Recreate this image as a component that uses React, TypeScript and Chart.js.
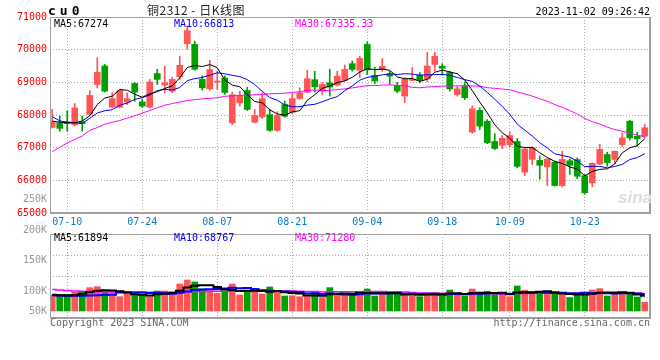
import React, { useEffect, useRef } from "react";
import { Chart, registerables } from "chart.js";
Chart.register(...registerables);

// ---------- data ----------
const dates = [
  "07-06","07-07","07-10","07-11","07-12","07-13","07-14","07-17","07-18","07-19","07-20","07-21","07-24","07-25","07-26","07-27","07-28","07-31",
  "08-01","08-02","08-03","08-04","08-07","08-08","08-09","08-10","08-11","08-14","08-15","08-16","08-17","08-18","08-21","08-22","08-23","08-24","08-25","08-28","08-29","08-30","08-31",
  "09-01","09-04","09-05","09-06","09-07","09-08","09-11","09-12","09-13","09-14","09-15","09-18","09-19","09-20","09-21","09-22","09-25","09-26","09-27","09-28",
  "10-09","10-10","10-11","10-12","10-13","10-16","10-17","10-18","10-19","10-20","10-23","10-24","10-25","10-26","10-27","10-30","10-31",
  "11-01","11-02",
];

const opens = [
  67620, 67760, 67790, 67700, 67790, 68020, 68935, 69500, 68240, 68240,
  68400, 68965, 68400, 68240, 69270, 68915, 68730, 69170, 70180, 70160,
  69090, 68800, 69010, 69130, 67760, 68370, 68750, 67780, 67940, 68010,
  67530, 68320, 68080, 68506, 68700, 69080, 68730, 68985, 68915, 69060,
  69570, 69370, 70160, 69210, 69395, 69260, 68900, 68580, 69060, 69220,
  69100, 69550, 69497, 69300, 68630, 68890, 67480, 68140, 67810, 67190,
  67070, 67090, 67190, 66250, 66640, 66610, 66410, 66550, 65840, 66600,
  66635, 66140, 65920, 66500, 66790, 66640, 67095, 67810, 67350, 67350,
];
const highs = [
  68170, 67970, 68130, 68350, 67960, 68750, 69750, 69550, 68680, 68780,
  68680, 68990, 68475, 69090, 69400, 69500, 69150, 69800, 70720, 70260,
  69200, 69670, 69340, 69200, 68700, 68730, 68850, 68170, 68680, 68170,
  68100, 68430, 68660, 68830, 69370, 69340, 68990, 69400, 69340, 69530,
  69650, 69800, 70240, 69470, 69730, 69340, 69000, 69150, 69450, 69300,
  69920, 69920, 69570, 69340, 68870, 69010, 68280, 68220, 67860, 67430,
  67370, 67480, 67280, 66990, 67020, 66750, 66660, 66590, 66890, 66660,
  66690, 66180, 66540, 67100, 66860, 66900, 67450, 67840, 67470, 67710,
];
const lows = [
  67600, 67505, 67505, 67660, 67505, 67990, 68830, 68700, 68220, 68220,
  68320, 68420, 68240, 68220, 68935, 68680, 68680, 69090, 70020, 69370,
  68760, 68760, 68780, 68630, 67700, 68270, 68140, 67760, 67900, 67500,
  67500, 67930, 68030, 68480, 68680, 68700, 68630, 68580, 68880, 69040,
  69340, 69140, 69240, 68955, 69340, 68935, 68680, 68380, 69050, 68980,
  69020, 69340, 69220, 68730, 68580, 68470, 67440, 67550, 67120, 66940,
  66970, 67020, 66380, 66150, 66480, 66030, 65840, 65820, 65800, 66180,
  66050, 65580, 65800, 66480, 66430, 66510, 67040, 67230, 67040, 67300,
];
const closes = [
  67800, 67590, 67735, 68220, 67735, 68600, 69310, 68730, 68500, 68750,
  68500, 68700, 68270, 69010, 69090, 68990, 69090, 69520, 70580, 69400,
  68830, 69390, 69040, 68690, 68620, 68600, 68170, 67985, 68500, 67530,
  67985, 67965, 68500, 68680, 69110, 68860, 68935, 68855, 69190, 69395,
  69395, 69730, 69380, 69040, 69490, 69190, 68730, 69090, 69090, 69060,
  69497, 69800, 69430, 68800, 68800, 68530, 68190, 67660, 67150, 66975,
  67290, 67370, 66430, 66960, 67000, 66460, 66650, 65840, 66640, 66460,
  66125, 65620, 66520, 66950, 66545, 66890, 67300, 67300, 67270, 67610,
];
const volumes = [
  65000, 65000, 67800, 75900, 75900, 94900, 98900, 75900, 71800, 58300,
  69100, 65000, 65000, 58300, 81300, 81300, 78600, 109800, 126000, 117900,
  89400, 81300, 71800, 75900, 109800, 65000, 85400, 75900, 69100, 97600,
  75900, 61000, 62300, 58300, 58300, 74500, 54200, 94900, 65000, 69100,
  65000, 78600, 89400, 61000, 69100, 69100, 71800, 65000, 65000, 58300,
  74500, 74500, 61000, 85300, 65000, 61000, 89400, 67800, 80400, 67800,
  67800, 58300, 101600, 84300, 67800, 77200, 71800, 73200, 67800, 54200,
  67800, 73200, 85400, 90900, 61000, 67800, 77200, 71800, 56900, 35700,
];

// moving-average values before enough history exists
const ma5Head = [67810, 67780, 67765, 67760];
const ma10Head = [67950, 67820, 67780, 67760, 67745, 67900, 68060, 68130, 68160];
const ma30Head = [
  66880, 67010, 67146, 67250, 67360, 67530, 67615, 67715, 67780, 67832,
  67910, 67975, 68060, 68138, 68220, 68300, 68350, 68400, 68445, 68470,
  68495, 68510, 68530, 68570, 68590, 68600, 68608, 68620, 68625,
];
const vma5Head = [66000, 64000, 63000, 64000];
const vma10Head = [64000, 63000, 62000, 62000, 62000, 63000, 64000, 65000, 66000];
const vma30Head = [
  87000, 85000, 83000, 81000, 80000, 79000, 78500, 78000, 77500, 77000,
  77000, 76500, 76500, 76000, 76000, 76000, 76500, 77000, 78000, 79000,
  79500, 80000, 80000, 80000, 80500, 80500, 80500, 80500, 80500,
];

const priceTicks = [65000, 66000, 67000, 68000, 69000, 70000, 71000];
const dateTicks = ["07-10", "07-24", "08-07", "08-21", "09-04", "09-18", "10-09", "10-23"];
const volTickValues = [67000, 100000, 150000, 200000, 250000];
const volTickLabels = ["50K", "100K", "150K", "200K", "250K"];

const priceLegend = [
  { text: "MA5:67274", color: "#000000", left: 54 },
  { text: "MA10:66813", color: "#0000ff", left: 174 },
  { text: "MA30:67335.33", color: "#ff00ff", left: 295 },
];
const volLegend = [
  { text: "MA5:61894", color: "#000000", left: 54 },
  { text: "MA10:68767", color: "#0000ff", left: 174 },
  { text: "MA30:71280", color: "#ff00ff", left: 295 },
];

// ---------- styling ----------
const UP = "#ff5555";
const DOWN = "#00a000";
const GRID = "#aaaaaa";
const FRAME = "#a0a0a0";
const MONO = "'DejaVu Sans Mono', monospace";
const X_MIN = -0.3;
const X_MAX = 79.7;
const VOL_MIN = -28500;
const VOL_MAX = 313000;
const VOL_LABEL_MIN = 55747;
const VOL_LABEL_MAX = 193423;

function sma(src: number[], n: number, head: number[]): number[] {
  return src.map((_, i) => {
    if (i < n - 1) return head[i];
    let s = 0;
    for (let k = i - n + 1; k <= i; k++) s += src[k];
    return s / n;
  });
}

const framePlugin = {
  id: "frame",
  afterDraw(chart: any) {
    const { ctx, chartArea: a } = chart;
    ctx.save();
    ctx.strokeStyle = FRAME;
    ctx.lineWidth = 1;
    ctx.beginPath();
    ctx.moveTo(a.left + 0.5, a.bottom);
    ctx.lineTo(a.left + 0.5, a.top + 0.5);
    ctx.lineTo(a.right, a.top + 0.5);
    ctx.stroke();
    ctx.lineWidth = 2;
    ctx.beginPath();
    ctx.moveTo(a.left, a.bottom);
    ctx.lineTo(a.right, a.bottom);
    ctx.lineTo(a.right, a.top);
    ctx.stroke();
    ctx.restore();
  },
};

const dateTickBuilder = (s: any) => {
  s.ticks = dateTicks.map((d) => ({ value: dates.indexOf(d) }));
};

export default function App() {
  const priceRef = useRef<HTMLCanvasElement>(null);
  const volRef = useRef<HTMLCanvasElement>(null);

  useEffect(() => {
    const idx = dates.map((_, i) => i);
    const colors = closes.map((c, i) => (c >= opens[i] ? UP : DOWN));
    const ma5 = sma(closes, 5, ma5Head);
    const ma10 = sma(closes, 10, ma10Head);
    const ma30 = sma(closes, 30, ma30Head);
    const vma5 = sma(volumes, 5, vma5Head);
    const vma10 = sma(volumes, 10, vma10Head);
    const vma30 = sma(volumes, 30, vma30Head);

    const lineDs = (data: number[], color: string, width: number, stepped: any) => ({
      type: "line" as const,
      data,
      borderColor: color,
      borderWidth: width,
      pointRadius: 0,
      tension: 0,
      stepped,
      order: 0,
    });

    const xScale = (showLabels: boolean) => ({
      type: "linear" as const,
      min: X_MIN,
      max: X_MAX,
      offset: false,
      afterBuildTicks: dateTickBuilder,
      afterFit: (s: any) => {
        s.height = showLabels ? 19 : 0;
      },
      grid: { color: GRID, drawTicks: false, borderDash: [1, 2], offset: false },
      border: { display: false, dash: [1, 2] },
      ticks: {
        display: showLabels,
        autoSkip: false,
        maxRotation: 0,
        color: "#0a7cc7",
        font: { family: MONO, size: 10 },
        padding: 3,
        callback: (v: any) => dates[v],
      },
    });

    const price = new Chart(priceRef.current!, {
      type: "bar",
      data: {
        labels: idx,
        datasets: [
          lineDs(ma5, "#000000", 1, false),
          lineDs(ma10, "#0000ff", 1, false),
          lineDs(ma30, "#ff00ff", 1, false),
          {
            type: "bar",
            data: lows.map((l, i) => [l, highs[i]]),
            backgroundColor: colors,
            barThickness: 1,
            grouped: false,
            order: 2,
          },
          {
            type: "bar",
            data: opens.map((o, i) => [o, closes[i]]),
            backgroundColor: colors,
            barThickness: 6,
            minBarLength: 1,
            grouped: false,
            order: 1,
          },
        ] as any,
      },
      options: {
        animation: false,
        responsive: false,
        maintainAspectRatio: false,
        layout: { padding: { left: 0, right: 10, top: 17, bottom: 0 } },
        plugins: { legend: { display: false }, tooltip: { enabled: false } },
        scales: {
          x: xScale(true) as any,
          y: {
            min: 65000,
            max: 71000,
            afterBuildTicks: (s: any) => {
              s.ticks = priceTicks.map((v) => ({ value: v }));
            },
            afterFit: (s: any) => {
              s.width = 50;
            },
            grid: {
              color: (c: any) =>
                c.index === 0 || c.index === priceTicks.length - 1 ? "rgba(0,0,0,0)" : GRID,
              drawTicks: false,
              borderDash: [1, 2],
            },
            border: { display: false, dash: [1, 2] },
            ticks: {
              autoSkip: false,
              color: "#ff0000",
              font: { family: MONO, size: 10 },
              padding: 3,
              callback: (v: any) => String(v),
            },
          } as any,
        },
      },
      plugins: [framePlugin],
    });

    const vol = new Chart(volRef.current!, {
      type: "bar",
      data: {
        labels: idx,
        datasets: [
          { ...lineDs(vma5, "#000000", 2, "middle"), yAxisID: "y" },
          { ...lineDs(vma10, "#0000ff", 2, "middle"), yAxisID: "y" },
          { ...lineDs(vma30, "#ff00ff", 1.5, "middle"), yAxisID: "y" },
          {
            type: "bar",
            data: volumes,
            backgroundColor: colors,
            barThickness: 6,
            yAxisID: "y",
            order: 1,
          },
        ] as any,
      },
      options: {
        animation: false,
        responsive: false,
        maintainAspectRatio: false,
        layout: { padding: { left: 0, right: 10, top: 44, bottom: 42 } },
        plugins: { legend: { display: false }, tooltip: { enabled: false } },
        scales: {
          x: xScale(false) as any,
          yl: {
            type: "linear",
            position: "left",
            min: VOL_LABEL_MIN,
            max: VOL_LABEL_MAX,
            afterBuildTicks: (s: any) => {
              s.ticks = volTickValues.map((v) => ({ value: v }));
            },
            afterFit: (s: any) => {
              s.width = 50;
            },
            grid: { display: false, drawTicks: false },
            border: { display: false },
            ticks: {
              autoSkip: false,
              color: "#999999",
              font: { family: MONO, size: 10 },
              padding: 3,
              callback: (_v: any, i: number) => volTickLabels[i],
            },
          } as any,
          y: {
            type: "linear",
            position: "left",
            min: VOL_MIN,
            max: VOL_MAX,
            afterBuildTicks: (s: any) => {
              s.ticks = [0, 1, 2, 3, 4].map((k) => ({
                value: VOL_MIN + (k * (VOL_MAX - VOL_MIN)) / 4,
              }));
            },
            afterFit: (s: any) => {
              s.width = 0;
            },
            grid: {
              color: (c: any) => (c.index === 0 || c.index === 4 ? "rgba(0,0,0,0)" : GRID),
              drawTicks: false,
              borderDash: [1, 2],
            },
            border: { display: false, dash: [1, 2] },
            ticks: { display: false },
          } as any,
        },
      },
      plugins: [framePlugin],
    });

    return () => {
      price.destroy();
      vol.destroy();
    };
  }, []);

  const mono: React.CSSProperties = {
    position: "absolute",
    fontFamily: MONO,
    fontSize: 10,
    lineHeight: "12px",
    whiteSpace: "pre",
  };

  return (
    <div
      style={{
        position: "fixed",
        left: 0,
        top: 0,
        width: 660,
        height: 360,
        background: "#ffffff",
        overflow: "hidden",
      }}
    >
      <canvas
        ref={priceRef}
        width={660}
        height={232}
        style={{ position: "absolute", left: 0, top: 0, width: 660, height: 232 }}
      />
      <canvas
        ref={volRef}
        width={660}
        height={170}
        style={{ position: "absolute", left: 0, top: 190, width: 660, height: 170 }}
      />
      <div
        style={{
          position: "absolute",
          left: 48,
          top: 4,
          fontFamily: MONO,
          fontWeight: "bold",
          fontSize: 13,
          lineHeight: "14px",
          letterSpacing: 4,
          color: "#000",
        }}
      >
        cu0
      </div>
      <div
        style={{
          position: "absolute",
          left: 132,
          width: 128,
          top: 2,
          textAlign: "center",
          fontFamily: "'Noto Sans CJK SC', sans-serif",
          fontSize: 12,
          lineHeight: "16px",
          letterSpacing: 0.5,
          whiteSpace: "pre",
          color: "#222",
        }}
      >
        铜2312 - 日K线图
      </div>
      <div style={{ ...mono, left: 0, width: 650, top: 6, textAlign: "right", color: "#000" }}>
        2023-11-02 09:26:42
      </div>
      {priceLegend.map((l) => (
        <div key={"p" + l.text} style={{ ...mono, left: l.left, top: 18, color: l.color }}>
          {l.text}
        </div>
      ))}
      {volLegend.map((l) => (
        <div key={"v" + l.text} style={{ ...mono, left: l.left, top: 232, color: l.color }}>
          {l.text}
        </div>
      ))}
      <div
        style={{
          position: "absolute",
          left: 618,
          top: 188,
          fontFamily: "'Liberation Sans', sans-serif",
          fontWeight: "bold",
          fontStyle: "italic",
          fontSize: 17,
          color: "#dddddd",
        }}
      >
        sina
      </div>
      <div style={{ ...mono, left: 50, top: 317, color: "#666" }}>Copyright 2023 SINA.COM</div>
      <div style={{ ...mono, left: 0, width: 650, top: 317, textAlign: "right", color: "#666" }}>
        http://finance.sina.com.cn
      </div>
    </div>
  );
}
